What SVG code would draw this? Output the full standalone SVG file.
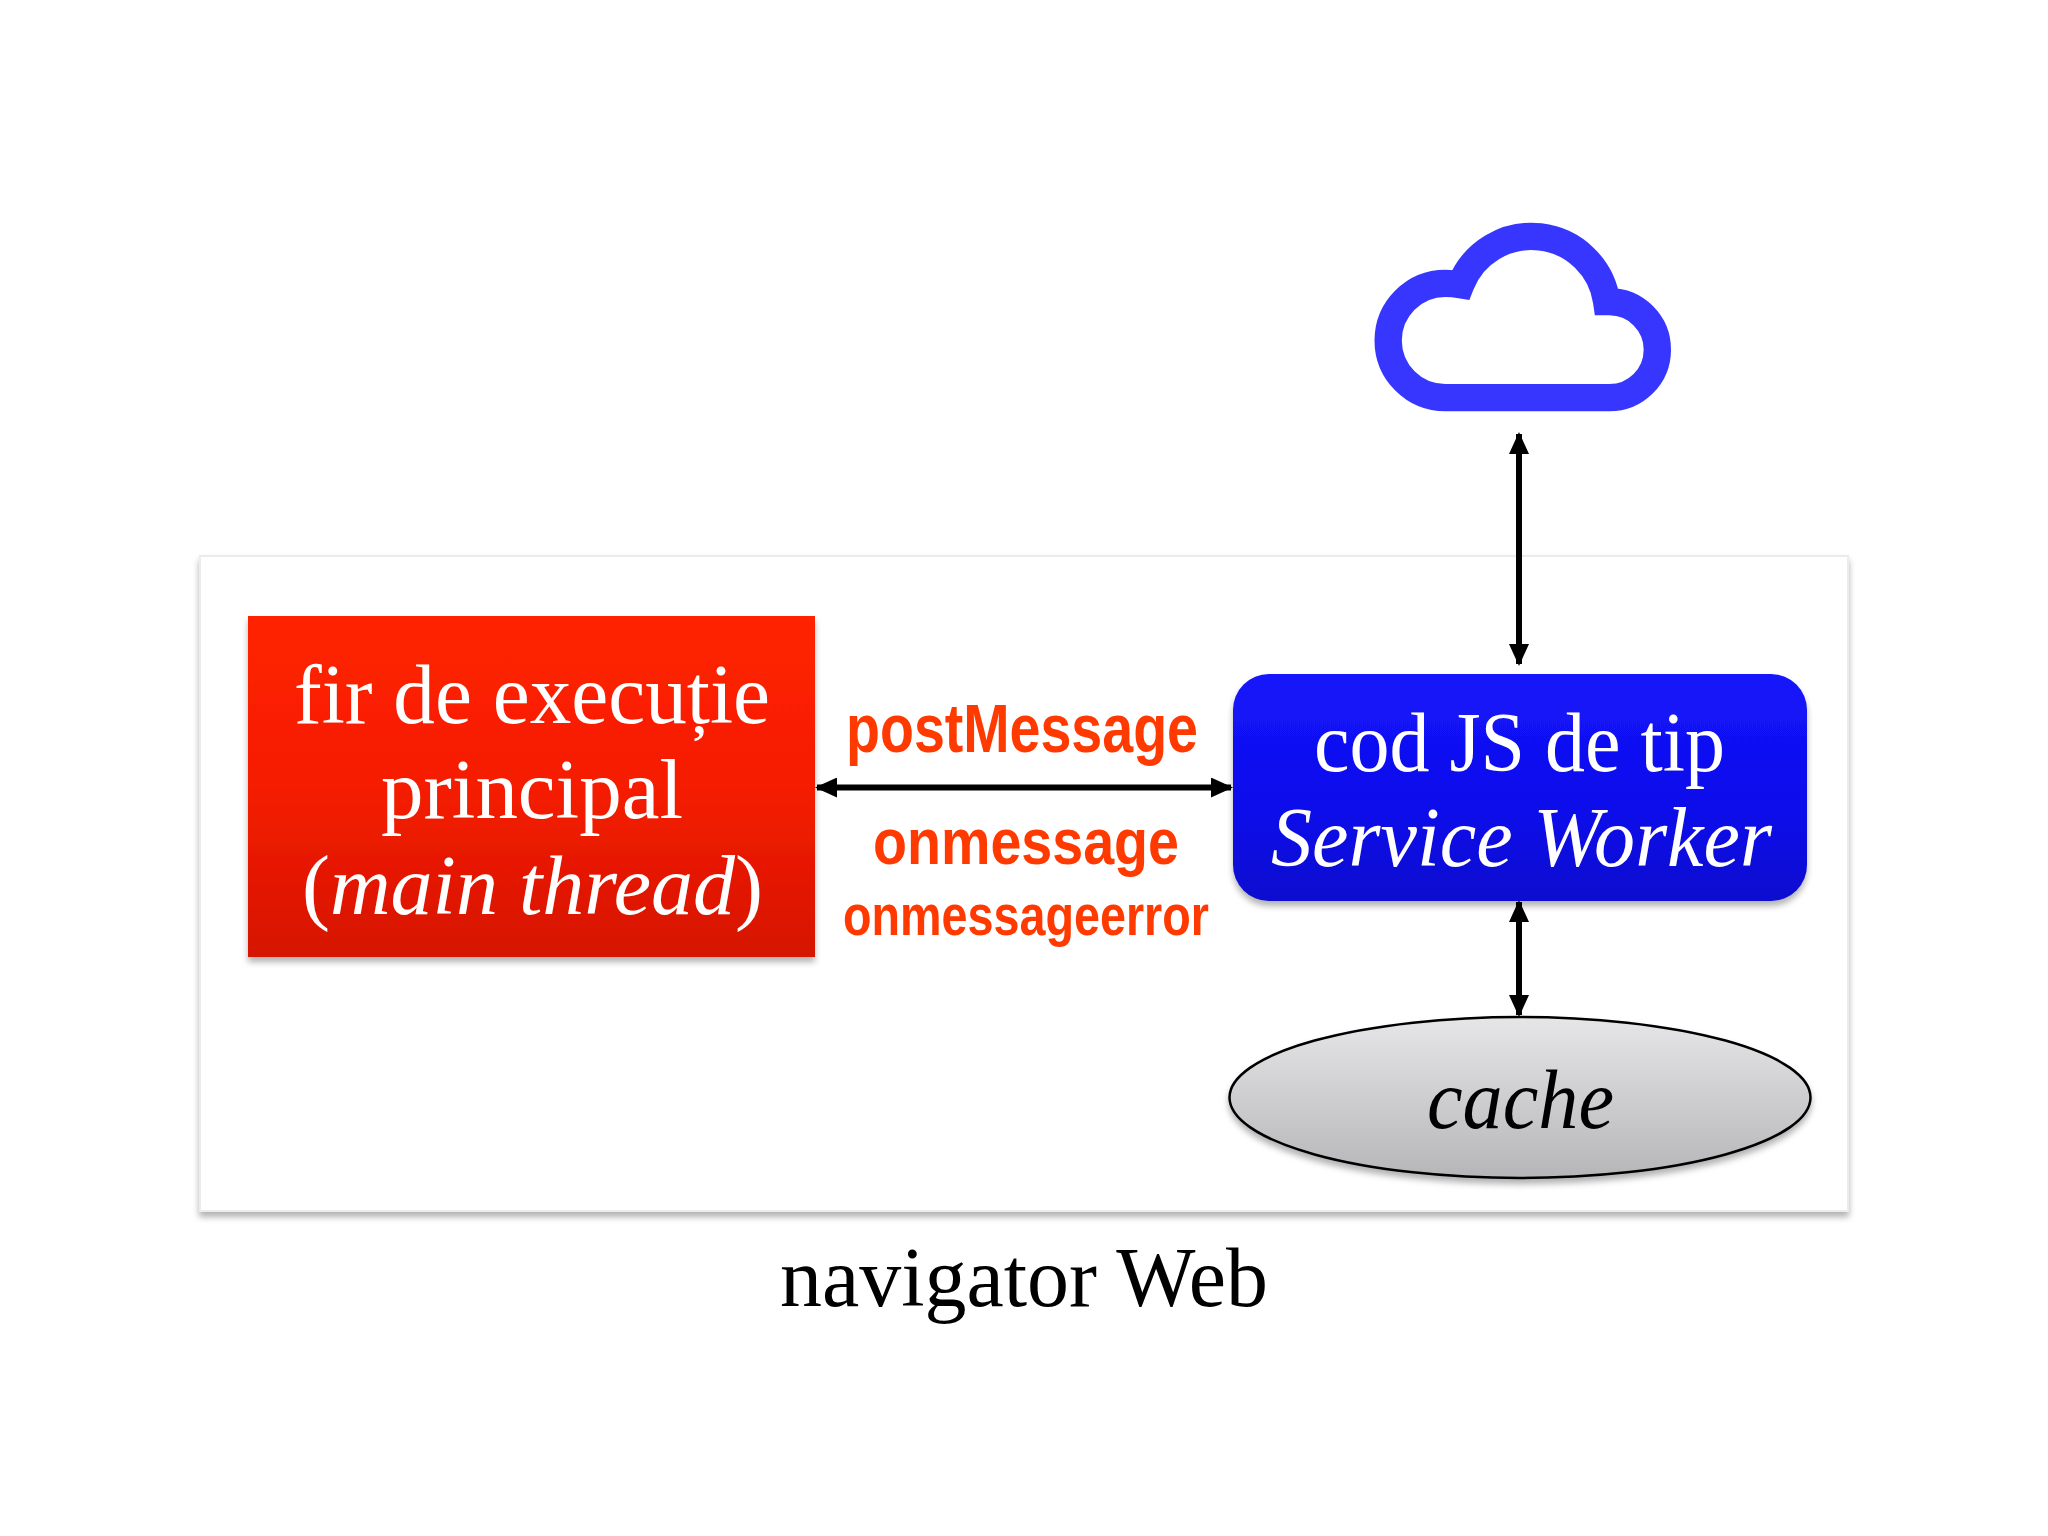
<svg xmlns="http://www.w3.org/2000/svg" width="2048" height="1536" viewBox="0 0 2048 1536">
<style>
.s{font-family:"Liberation Serif","Times New Roman",serif;font-size:84px;fill:#fff}
.k{fill:#000}
.o{font-family:"Liberation Sans",Arial,sans-serif;font-weight:700;fill:#ff3a00}
.c{stroke:#000;stroke-width:6;fill:none;marker-start:url(#a);marker-end:url(#a)}
</style>
<defs>
<linearGradient id="r" x1="0" y1="0" x2="0" y2="1"><stop offset="0" stop-color="#ff2100"/><stop offset="0.5" stop-color="#f51e00"/><stop offset="1" stop-color="#d51200"/></linearGradient>
<linearGradient id="b" x1="0" y1="0" x2="0" y2="1"><stop offset="0" stop-color="#1414fc"/><stop offset="0.6" stop-color="#0e0eea"/><stop offset="1" stop-color="#0808cf"/></linearGradient>
<linearGradient id="g" x1="0" y1="0" x2="0" y2="1"><stop offset="0" stop-color="#e6e6e8"/><stop offset="1" stop-color="#b6b6b8"/></linearGradient>
<filter id="sh" x="-5%" y="-5%" width="110%" height="115%"><feDropShadow dx="0" dy="5" stdDeviation="3" flood-color="#000" flood-opacity="0.3"/></filter>
<marker id="a" markerUnits="userSpaceOnUse" markerWidth="22" markerHeight="20" refX="20" refY="10" orient="auto-start-reverse" viewBox="0 0 22 20"><path d="M0 0L22 10L0 20L0 10Z" fill="#000"/></marker>
</defs>
<rect width="2048" height="1536" fill="#fff"/>
<g id="panel"><rect x="200" y="556" width="1648" height="655" fill="#fff" stroke="#ececec" stroke-width="2" filter="url(#sh)"/></g>
<g id="connectors">
<line class="c" x1="817" y1="787.5" x2="1231" y2="787.5"/>
<line class="c" x1="1519" y1="434" x2="1519" y2="664"/>
<line class="c" x1="1519" y1="902" x2="1519" y2="1015"/>
</g>
<g id="cloud"><path transform="translate(1340 200) scale(.33333)" d="M316 593H808A144 144 0 0 0 808 305L800 305A228 228 0 0 0 362 254Q338 250 316 250A171.500 171.500 0 0 0 316 593Z" fill="#fff" stroke="#3636ff" stroke-width="82" stroke-linejoin="miter"/></g>
<g id="main-thread">
<rect x="248" y="616" width="567" height="341" fill="url(#r)" filter="url(#sh)"/>
<text class="s" x="294" y="723" textLength="476" lengthAdjust="spacingAndGlyphs">fir de execuție</text>
<text class="s" x="381" y="818" textLength="302" lengthAdjust="spacingAndGlyphs">principal</text>
<text class="s" x="302" y="914" textLength="461" lengthAdjust="spacingAndGlyphs">(<tspan font-style="italic">main thread</tspan>)</text>
</g>
<g id="service-worker">
<rect x="1233" y="674" width="574" height="227" rx="36" fill="url(#b)" filter="url(#sh)"/>
<text class="s" x="1314" y="771" textLength="411" lengthAdjust="spacingAndGlyphs">cod JS de tip</text>
<text class="s" x="1271" y="866" font-style="italic" textLength="501" lengthAdjust="spacingAndGlyphs">Service Worker</text>
</g>
<g id="cache">
<ellipse cx="1520" cy="1097.5" rx="290.500" ry="80.500" fill="url(#g)" stroke="#000" stroke-width="2.5" filter="url(#sh)"/>
<text class="s k" x="1427" y="1128" font-style="italic" textLength="187" lengthAdjust="spacingAndGlyphs">cache</text>
</g>
<g id="labels">
<text class="o" x="846" y="752" font-size="68" textLength="352" lengthAdjust="spacingAndGlyphs">postMessage</text>
<text class="o" x="873" y="864" font-size="65" textLength="306" lengthAdjust="spacingAndGlyphs">onmessage</text>
<text class="o" x="843" y="935" font-size="57" textLength="366" lengthAdjust="spacingAndGlyphs">onmessageerror</text>
</g>
<g id="browser-label"><text class="s k" x="780" y="1306" textLength="488" lengthAdjust="spacingAndGlyphs">navigator Web</text></g>
</svg>
